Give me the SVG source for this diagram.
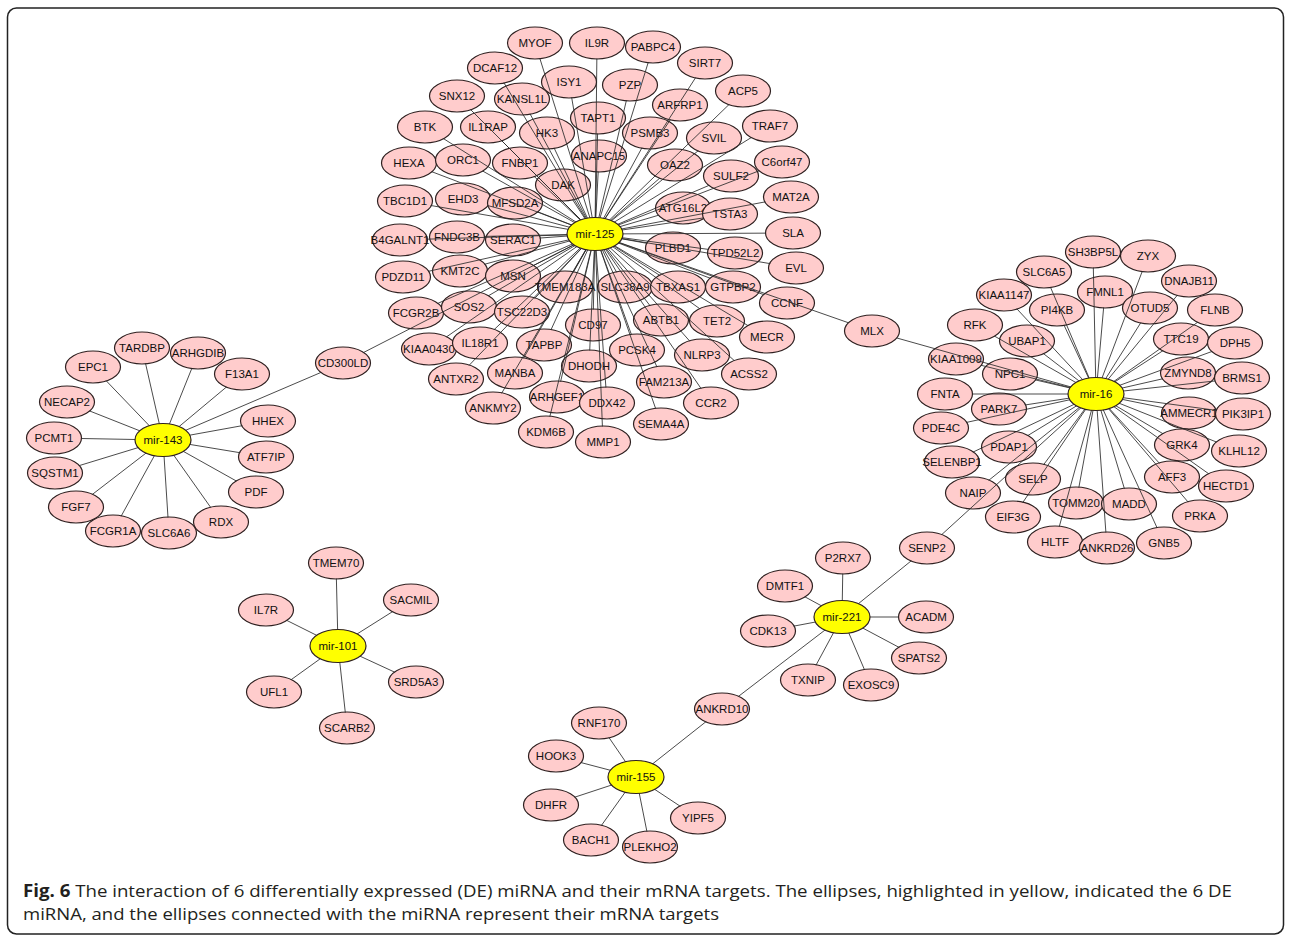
<svg xmlns="http://www.w3.org/2000/svg" xmlns:xlink="http://www.w3.org/1999/xlink" width="1290" height="936" viewBox="0 0 1290 936">
<style>
.n ellipse{rx:27.5px;ry:16px;fill:#ffcccc;stroke:#2e2020;stroke-width:1.2}
.h ellipse{rx:28px;ry:16.5px;fill:#ffff00;stroke:#2e2020;stroke-width:1.2}
.n text,.h text{font-family:"Liberation Sans",Arial,sans-serif;font-size:11.5px;fill:#111;text-anchor:middle;dominant-baseline:central}
#connectors line{stroke:#2a2a2a;stroke-width:0.85;fill:none}
#hole{clip-rule:evenodd}
.cap{font-family:"Open Sans","Liberation Sans",sans-serif;font-size:17px;fill:#231f20}
</style>
<defs>
<path id="hole" clip-rule="evenodd" d="M-2000 -2000H4000V4000H-2000ZM-27 0a27 15.5 0 1 0 54 0a27 15.5 0 1 0 -54 0Z"/>
<clipPath id="k-MYOF"><use xlink:href="#hole" x="535" y="43"/></clipPath>
<clipPath id="k-IL9R"><use xlink:href="#hole" x="597" y="43"/></clipPath>
<clipPath id="k-PABPC4"><use xlink:href="#hole" x="653" y="47"/></clipPath>
<clipPath id="k-SIRT7"><use xlink:href="#hole" x="705" y="63"/></clipPath>
<clipPath id="k-ACP5"><use xlink:href="#hole" x="743" y="91"/></clipPath>
<clipPath id="k-TRAF7"><use xlink:href="#hole" x="770" y="126"/></clipPath>
<clipPath id="k-C6orf47"><use xlink:href="#hole" x="782" y="162"/></clipPath>
<clipPath id="k-DCAF12"><use xlink:href="#hole" x="495" y="68"/></clipPath>
<clipPath id="k-ISY1"><use xlink:href="#hole" x="569" y="82"/></clipPath>
<clipPath id="k-PZP"><use xlink:href="#hole" x="630" y="85"/></clipPath>
<clipPath id="k-SNX12"><use xlink:href="#hole" x="457" y="96"/></clipPath>
<clipPath id="k-KANSL1L"><use xlink:href="#hole" x="522" y="99"/></clipPath>
<clipPath id="k-ARFRP1"><use xlink:href="#hole" x="680" y="105"/></clipPath>
<clipPath id="k-TAPT1"><use xlink:href="#hole" x="598" y="118"/></clipPath>
<clipPath id="k-BTK"><use xlink:href="#hole" x="425" y="127"/></clipPath>
<clipPath id="k-IL1RAP"><use xlink:href="#hole" x="488" y="127"/></clipPath>
<clipPath id="k-HK3"><use xlink:href="#hole" x="547" y="133"/></clipPath>
<clipPath id="k-PSMB3"><use xlink:href="#hole" x="650" y="133"/></clipPath>
<clipPath id="k-SVIL"><use xlink:href="#hole" x="714" y="138"/></clipPath>
<clipPath id="k-ANAPC15"><use xlink:href="#hole" x="599" y="156"/></clipPath>
<clipPath id="k-HEXA"><use xlink:href="#hole" x="409" y="163"/></clipPath>
<clipPath id="k-ORC1"><use xlink:href="#hole" x="463" y="160"/></clipPath>
<clipPath id="k-FNBP1"><use xlink:href="#hole" x="520" y="163"/></clipPath>
<clipPath id="k-OAZ2"><use xlink:href="#hole" x="675" y="165"/></clipPath>
<clipPath id="k-SULF2"><use xlink:href="#hole" x="731" y="176"/></clipPath>
<clipPath id="k-DAK"><use xlink:href="#hole" x="563" y="185"/></clipPath>
<clipPath id="k-TBC1D1"><use xlink:href="#hole" x="405" y="201"/></clipPath>
<clipPath id="k-EHD3"><use xlink:href="#hole" x="463" y="199"/></clipPath>
<clipPath id="k-MFSD2A"><use xlink:href="#hole" x="515" y="203"/></clipPath>
<clipPath id="k-ATG16L2"><use xlink:href="#hole" x="683" y="208"/></clipPath>
<clipPath id="k-TSTA3"><use xlink:href="#hole" x="730" y="214"/></clipPath>
<clipPath id="k-MAT2A"><use xlink:href="#hole" x="791" y="197"/></clipPath>
<clipPath id="k-SLA"><use xlink:href="#hole" x="793" y="233"/></clipPath>
<clipPath id="k-B4GALNT1"><use xlink:href="#hole" x="400" y="240"/></clipPath>
<clipPath id="k-FNDC3B"><use xlink:href="#hole" x="457" y="237"/></clipPath>
<clipPath id="k-SERAC1"><use xlink:href="#hole" x="513" y="240"/></clipPath>
<clipPath id="k-PLBD1"><use xlink:href="#hole" x="673" y="248"/></clipPath>
<clipPath id="k-TPD52L2"><use xlink:href="#hole" x="735" y="253"/></clipPath>
<clipPath id="k-EVL"><use xlink:href="#hole" x="796" y="268"/></clipPath>
<clipPath id="k-PDZD11"><use xlink:href="#hole" x="403" y="277"/></clipPath>
<clipPath id="k-KMT2C"><use xlink:href="#hole" x="460" y="271"/></clipPath>
<clipPath id="k-MSN"><use xlink:href="#hole" x="513" y="276"/></clipPath>
<clipPath id="k-TMEM183A"><use xlink:href="#hole" x="565" y="287"/></clipPath>
<clipPath id="k-SLC38A9"><use xlink:href="#hole" x="625" y="287"/></clipPath>
<clipPath id="k-TBXAS1"><use xlink:href="#hole" x="678" y="287"/></clipPath>
<clipPath id="k-GTPBP2"><use xlink:href="#hole" x="733" y="287"/></clipPath>
<clipPath id="k-CCNF"><use xlink:href="#hole" x="787" y="303"/></clipPath>
<clipPath id="k-FCGR2B"><use xlink:href="#hole" x="416" y="313"/></clipPath>
<clipPath id="k-SOS2"><use xlink:href="#hole" x="469" y="307"/></clipPath>
<clipPath id="k-TSC22D3"><use xlink:href="#hole" x="522" y="312"/></clipPath>
<clipPath id="k-CD97"><use xlink:href="#hole" x="593" y="325"/></clipPath>
<clipPath id="k-ABTB1"><use xlink:href="#hole" x="661" y="320"/></clipPath>
<clipPath id="k-TET2"><use xlink:href="#hole" x="717" y="321"/></clipPath>
<clipPath id="k-MECR"><use xlink:href="#hole" x="767" y="337"/></clipPath>
<clipPath id="k-KIAA0430"><use xlink:href="#hole" x="429" y="349"/></clipPath>
<clipPath id="k-IL18R1"><use xlink:href="#hole" x="480" y="343"/></clipPath>
<clipPath id="k-TAPBP"><use xlink:href="#hole" x="544" y="345"/></clipPath>
<clipPath id="k-DHODH"><use xlink:href="#hole" x="589" y="366"/></clipPath>
<clipPath id="k-PCSK4"><use xlink:href="#hole" x="637" y="350"/></clipPath>
<clipPath id="k-NLRP3"><use xlink:href="#hole" x="702" y="355"/></clipPath>
<clipPath id="k-ACSS2"><use xlink:href="#hole" x="749" y="374"/></clipPath>
<clipPath id="k-ANTXR2"><use xlink:href="#hole" x="456" y="379"/></clipPath>
<clipPath id="k-MANBA"><use xlink:href="#hole" x="515" y="373"/></clipPath>
<clipPath id="k-FAM213A"><use xlink:href="#hole" x="664" y="382"/></clipPath>
<clipPath id="k-ARHGEF1"><use xlink:href="#hole" x="557" y="397"/></clipPath>
<clipPath id="k-DDX42"><use xlink:href="#hole" x="607" y="403"/></clipPath>
<clipPath id="k-CCR2"><use xlink:href="#hole" x="711" y="403"/></clipPath>
<clipPath id="k-ANKMY2"><use xlink:href="#hole" x="493" y="408"/></clipPath>
<clipPath id="k-SEMA4A"><use xlink:href="#hole" x="661" y="424"/></clipPath>
<clipPath id="k-KDM6B"><use xlink:href="#hole" x="546" y="432"/></clipPath>
<clipPath id="k-MMP1"><use xlink:href="#hole" x="603" y="442"/></clipPath>
<clipPath id="k-CD300LD"><use xlink:href="#hole" x="343" y="363"/></clipPath>
<clipPath id="k-MLX"><use xlink:href="#hole" x="872" y="331"/></clipPath>
<clipPath id="k-SH3BP5L"><use xlink:href="#hole" x="1093" y="252"/></clipPath>
<clipPath id="k-ZYX"><use xlink:href="#hole" x="1148" y="256"/></clipPath>
<clipPath id="k-SLC6A5"><use xlink:href="#hole" x="1044" y="272"/></clipPath>
<clipPath id="k-DNAJB11"><use xlink:href="#hole" x="1189" y="281"/></clipPath>
<clipPath id="k-KIAA1147"><use xlink:href="#hole" x="1004" y="295"/></clipPath>
<clipPath id="k-FMNL1"><use xlink:href="#hole" x="1105" y="292"/></clipPath>
<clipPath id="k-OTUD5"><use xlink:href="#hole" x="1150" y="308"/></clipPath>
<clipPath id="k-FLNB"><use xlink:href="#hole" x="1215" y="310"/></clipPath>
<clipPath id="k-PI4KB"><use xlink:href="#hole" x="1057" y="310"/></clipPath>
<clipPath id="k-RFK"><use xlink:href="#hole" x="975" y="325"/></clipPath>
<clipPath id="k-UBAP1"><use xlink:href="#hole" x="1027" y="341"/></clipPath>
<clipPath id="k-TTC19"><use xlink:href="#hole" x="1181" y="339"/></clipPath>
<clipPath id="k-DPH5"><use xlink:href="#hole" x="1235" y="343"/></clipPath>
<clipPath id="k-KIAA1009"><use xlink:href="#hole" x="956" y="359"/></clipPath>
<clipPath id="k-NPC1"><use xlink:href="#hole" x="1010" y="374"/></clipPath>
<clipPath id="k-ZMYND8"><use xlink:href="#hole" x="1188" y="373"/></clipPath>
<clipPath id="k-BRMS1"><use xlink:href="#hole" x="1242" y="378"/></clipPath>
<clipPath id="k-FNTA"><use xlink:href="#hole" x="945" y="394"/></clipPath>
<clipPath id="k-PARK7"><use xlink:href="#hole" x="999" y="409"/></clipPath>
<clipPath id="k-AMMECR1"><use xlink:href="#hole" x="1189" y="413"/></clipPath>
<clipPath id="k-PIK3IP1"><use xlink:href="#hole" x="1243" y="414"/></clipPath>
<clipPath id="k-PDE4C"><use xlink:href="#hole" x="941" y="428"/></clipPath>
<clipPath id="k-PDAP1"><use xlink:href="#hole" x="1009" y="447"/></clipPath>
<clipPath id="k-GRK4"><use xlink:href="#hole" x="1182" y="445"/></clipPath>
<clipPath id="k-KLHL12"><use xlink:href="#hole" x="1239" y="451"/></clipPath>
<clipPath id="k-SELENBP1"><use xlink:href="#hole" x="952" y="462"/></clipPath>
<clipPath id="k-SELP"><use xlink:href="#hole" x="1033" y="479"/></clipPath>
<clipPath id="k-AFF3"><use xlink:href="#hole" x="1172" y="477"/></clipPath>
<clipPath id="k-HECTD1"><use xlink:href="#hole" x="1226" y="486"/></clipPath>
<clipPath id="k-NAIP"><use xlink:href="#hole" x="973" y="493"/></clipPath>
<clipPath id="k-TOMM20"><use xlink:href="#hole" x="1076" y="503"/></clipPath>
<clipPath id="k-MADD"><use xlink:href="#hole" x="1129" y="504"/></clipPath>
<clipPath id="k-EIF3G"><use xlink:href="#hole" x="1013" y="517"/></clipPath>
<clipPath id="k-PRKA"><use xlink:href="#hole" x="1200" y="516"/></clipPath>
<clipPath id="k-HLTF"><use xlink:href="#hole" x="1055" y="542"/></clipPath>
<clipPath id="k-ANKRD26"><use xlink:href="#hole" x="1107" y="548"/></clipPath>
<clipPath id="k-GNB5"><use xlink:href="#hole" x="1164" y="543"/></clipPath>
<clipPath id="k-SENP2"><use xlink:href="#hole" x="927" y="548"/></clipPath>
<clipPath id="k-TARDBP"><use xlink:href="#hole" x="142" y="348"/></clipPath>
<clipPath id="k-ARHGDIB"><use xlink:href="#hole" x="198" y="353"/></clipPath>
<clipPath id="k-EPC1"><use xlink:href="#hole" x="93" y="367"/></clipPath>
<clipPath id="k-F13A1"><use xlink:href="#hole" x="242" y="374"/></clipPath>
<clipPath id="k-NECAP2"><use xlink:href="#hole" x="67" y="402"/></clipPath>
<clipPath id="k-HHEX"><use xlink:href="#hole" x="268" y="421"/></clipPath>
<clipPath id="k-PCMT1"><use xlink:href="#hole" x="54" y="438"/></clipPath>
<clipPath id="k-ATF7IP"><use xlink:href="#hole" x="266" y="457"/></clipPath>
<clipPath id="k-SQSTM1"><use xlink:href="#hole" x="55" y="473"/></clipPath>
<clipPath id="k-PDF"><use xlink:href="#hole" x="256" y="492"/></clipPath>
<clipPath id="k-FGF7"><use xlink:href="#hole" x="76" y="507"/></clipPath>
<clipPath id="k-RDX"><use xlink:href="#hole" x="221" y="522"/></clipPath>
<clipPath id="k-FCGR1A"><use xlink:href="#hole" x="113" y="531"/></clipPath>
<clipPath id="k-SLC6A6"><use xlink:href="#hole" x="169" y="533"/></clipPath>
<clipPath id="k-TMEM70"><use xlink:href="#hole" x="336" y="563"/></clipPath>
<clipPath id="k-SACMIL"><use xlink:href="#hole" x="411" y="600"/></clipPath>
<clipPath id="k-IL7R"><use xlink:href="#hole" x="266" y="610"/></clipPath>
<clipPath id="k-SRD5A3"><use xlink:href="#hole" x="416" y="682"/></clipPath>
<clipPath id="k-UFL1"><use xlink:href="#hole" x="274" y="692"/></clipPath>
<clipPath id="k-SCARB2"><use xlink:href="#hole" x="347" y="728"/></clipPath>
<clipPath id="k-P2RX7"><use xlink:href="#hole" x="843" y="558"/></clipPath>
<clipPath id="k-DMTF1"><use xlink:href="#hole" x="785" y="586"/></clipPath>
<clipPath id="k-ACADM"><use xlink:href="#hole" x="926" y="617"/></clipPath>
<clipPath id="k-CDK13"><use xlink:href="#hole" x="768" y="631"/></clipPath>
<clipPath id="k-SPATS2"><use xlink:href="#hole" x="919" y="658"/></clipPath>
<clipPath id="k-TXNIP"><use xlink:href="#hole" x="808" y="680"/></clipPath>
<clipPath id="k-EXOSC9"><use xlink:href="#hole" x="871" y="685"/></clipPath>
<clipPath id="k-ANKRD10"><use xlink:href="#hole" x="722" y="709"/></clipPath>
<clipPath id="k-RNF170"><use xlink:href="#hole" x="599" y="723"/></clipPath>
<clipPath id="k-HOOK3"><use xlink:href="#hole" x="556" y="756"/></clipPath>
<clipPath id="k-DHFR"><use xlink:href="#hole" x="551" y="805"/></clipPath>
<clipPath id="k-YIPF5"><use xlink:href="#hole" x="698" y="818"/></clipPath>
<clipPath id="k-BACH1"><use xlink:href="#hole" x="591" y="840"/></clipPath>
<clipPath id="k-PLEKHO2"><use xlink:href="#hole" x="650" y="847"/></clipPath>
</defs>
<rect x="7.5" y="8" width="1276" height="926" rx="9" fill="#fff" stroke="#222" stroke-width="1.5"/>
<g id="targets">
<g id="n-MYOF" class="n"><ellipse cx="535" cy="43"/><text x="535" y="43">MYOF</text></g>
<g id="n-IL9R" class="n"><ellipse cx="597" cy="43"/><text x="597" y="43">IL9R</text></g>
<g id="n-PABPC4" class="n"><ellipse cx="653" cy="47"/><text x="653" y="47">PABPC4</text></g>
<g id="n-SIRT7" class="n"><ellipse cx="705" cy="63"/><text x="705" y="63">SIRT7</text></g>
<g id="n-ACP5" class="n"><ellipse cx="743" cy="91"/><text x="743" y="91">ACP5</text></g>
<g id="n-TRAF7" class="n"><ellipse cx="770" cy="126"/><text x="770" y="126">TRAF7</text></g>
<g id="n-C6orf47" class="n"><ellipse cx="782" cy="162"/><text x="782" y="162">C6orf47</text></g>
<g id="n-DCAF12" class="n"><ellipse cx="495" cy="68"/><text x="495" y="68">DCAF12</text></g>
<g id="n-ISY1" class="n"><ellipse cx="569" cy="82"/><text x="569" y="82">ISY1</text></g>
<g id="n-PZP" class="n"><ellipse cx="630" cy="85"/><text x="630" y="85">PZP</text></g>
<g id="n-SNX12" class="n"><ellipse cx="457" cy="96"/><text x="457" y="96">SNX12</text></g>
<g id="n-KANSL1L" class="n"><ellipse cx="522" cy="99"/><text x="522" y="99">KANSL1L</text></g>
<g id="n-ARFRP1" class="n"><ellipse cx="680" cy="105"/><text x="680" y="105">ARFRP1</text></g>
<g id="n-TAPT1" class="n"><ellipse cx="598" cy="118"/><text x="598" y="118">TAPT1</text></g>
<g id="n-BTK" class="n"><ellipse cx="425" cy="127"/><text x="425" y="127">BTK</text></g>
<g id="n-IL1RAP" class="n"><ellipse cx="488" cy="127"/><text x="488" y="127">IL1RAP</text></g>
<g id="n-HK3" class="n"><ellipse cx="547" cy="133"/><text x="547" y="133">HK3</text></g>
<g id="n-PSMB3" class="n"><ellipse cx="650" cy="133"/><text x="650" y="133">PSMB3</text></g>
<g id="n-SVIL" class="n"><ellipse cx="714" cy="138"/><text x="714" y="138">SVIL</text></g>
<g id="n-ANAPC15" class="n"><ellipse cx="599" cy="156"/><text x="599" y="156">ANAPC15</text></g>
<g id="n-HEXA" class="n"><ellipse cx="409" cy="163"/><text x="409" y="163">HEXA</text></g>
<g id="n-ORC1" class="n"><ellipse cx="463" cy="160"/><text x="463" y="160">ORC1</text></g>
<g id="n-FNBP1" class="n"><ellipse cx="520" cy="163"/><text x="520" y="163">FNBP1</text></g>
<g id="n-OAZ2" class="n"><ellipse cx="675" cy="165"/><text x="675" y="165">OAZ2</text></g>
<g id="n-SULF2" class="n"><ellipse cx="731" cy="176"/><text x="731" y="176">SULF2</text></g>
<g id="n-DAK" class="n"><ellipse cx="563" cy="185"/><text x="563" y="185">DAK</text></g>
<g id="n-TBC1D1" class="n"><ellipse cx="405" cy="201"/><text x="405" y="201">TBC1D1</text></g>
<g id="n-EHD3" class="n"><ellipse cx="463" cy="199"/><text x="463" y="199">EHD3</text></g>
<g id="n-MFSD2A" class="n"><ellipse cx="515" cy="203"/><text x="515" y="203">MFSD2A</text></g>
<g id="n-ATG16L2" class="n"><ellipse cx="683" cy="208"/><text x="683" y="208">ATG16L2</text></g>
<g id="n-TSTA3" class="n"><ellipse cx="730" cy="214"/><text x="730" y="214">TSTA3</text></g>
<g id="n-MAT2A" class="n"><ellipse cx="791" cy="197"/><text x="791" y="197">MAT2A</text></g>
<g id="n-SLA" class="n"><ellipse cx="793" cy="233"/><text x="793" y="233">SLA</text></g>
<g id="n-B4GALNT1" class="n"><ellipse cx="400" cy="240"/><text x="400" y="240">B4GALNT1</text></g>
<g id="n-FNDC3B" class="n"><ellipse cx="457" cy="237"/><text x="457" y="237">FNDC3B</text></g>
<g id="n-SERAC1" class="n"><ellipse cx="513" cy="240"/><text x="513" y="240">SERAC1</text></g>
<g id="n-PLBD1" class="n"><ellipse cx="673" cy="248"/><text x="673" y="248">PLBD1</text></g>
<g id="n-TPD52L2" class="n"><ellipse cx="735" cy="253"/><text x="735" y="253">TPD52L2</text></g>
<g id="n-EVL" class="n"><ellipse cx="796" cy="268"/><text x="796" y="268">EVL</text></g>
<g id="n-PDZD11" class="n"><ellipse cx="403" cy="277"/><text x="403" y="277">PDZD11</text></g>
<g id="n-KMT2C" class="n"><ellipse cx="460" cy="271"/><text x="460" y="271">KMT2C</text></g>
<g id="n-MSN" class="n"><ellipse cx="513" cy="276"/><text x="513" y="276">MSN</text></g>
<g id="n-TMEM183A" class="n"><ellipse cx="565" cy="287"/><text x="565" y="287">TMEM183A</text></g>
<g id="n-SLC38A9" class="n"><ellipse cx="625" cy="287"/><text x="625" y="287">SLC38A9</text></g>
<g id="n-TBXAS1" class="n"><ellipse cx="678" cy="287"/><text x="678" y="287">TBXAS1</text></g>
<g id="n-GTPBP2" class="n"><ellipse cx="733" cy="287"/><text x="733" y="287">GTPBP2</text></g>
<g id="n-CCNF" class="n"><ellipse cx="787" cy="303"/><text x="787" y="303">CCNF</text></g>
<g id="n-FCGR2B" class="n"><ellipse cx="416" cy="313"/><text x="416" y="313">FCGR2B</text></g>
<g id="n-SOS2" class="n"><ellipse cx="469" cy="307"/><text x="469" y="307">SOS2</text></g>
<g id="n-TSC22D3" class="n"><ellipse cx="522" cy="312"/><text x="522" y="312">TSC22D3</text></g>
<g id="n-CD97" class="n"><ellipse cx="593" cy="325"/><text x="593" y="325">CD97</text></g>
<g id="n-ABTB1" class="n"><ellipse cx="661" cy="320"/><text x="661" y="320">ABTB1</text></g>
<g id="n-TET2" class="n"><ellipse cx="717" cy="321"/><text x="717" y="321">TET2</text></g>
<g id="n-MECR" class="n"><ellipse cx="767" cy="337"/><text x="767" y="337">MECR</text></g>
<g id="n-KIAA0430" class="n"><ellipse cx="429" cy="349"/><text x="429" y="349">KIAA0430</text></g>
<g id="n-IL18R1" class="n"><ellipse cx="480" cy="343"/><text x="480" y="343">IL18R1</text></g>
<g id="n-TAPBP" class="n"><ellipse cx="544" cy="345"/><text x="544" y="345">TAPBP</text></g>
<g id="n-DHODH" class="n"><ellipse cx="589" cy="366"/><text x="589" y="366">DHODH</text></g>
<g id="n-PCSK4" class="n"><ellipse cx="637" cy="350"/><text x="637" y="350">PCSK4</text></g>
<g id="n-NLRP3" class="n"><ellipse cx="702" cy="355"/><text x="702" y="355">NLRP3</text></g>
<g id="n-ACSS2" class="n"><ellipse cx="749" cy="374"/><text x="749" y="374">ACSS2</text></g>
<g id="n-ANTXR2" class="n"><ellipse cx="456" cy="379"/><text x="456" y="379">ANTXR2</text></g>
<g id="n-MANBA" class="n"><ellipse cx="515" cy="373"/><text x="515" y="373">MANBA</text></g>
<g id="n-FAM213A" class="n"><ellipse cx="664" cy="382"/><text x="664" y="382">FAM213A</text></g>
<g id="n-ARHGEF1" class="n"><ellipse cx="557" cy="397"/><text x="557" y="397">ARHGEF1</text></g>
<g id="n-DDX42" class="n"><ellipse cx="607" cy="403"/><text x="607" y="403">DDX42</text></g>
<g id="n-CCR2" class="n"><ellipse cx="711" cy="403"/><text x="711" y="403">CCR2</text></g>
<g id="n-ANKMY2" class="n"><ellipse cx="493" cy="408"/><text x="493" y="408">ANKMY2</text></g>
<g id="n-SEMA4A" class="n"><ellipse cx="661" cy="424"/><text x="661" y="424">SEMA4A</text></g>
<g id="n-KDM6B" class="n"><ellipse cx="546" cy="432"/><text x="546" y="432">KDM6B</text></g>
<g id="n-MMP1" class="n"><ellipse cx="603" cy="442"/><text x="603" y="442">MMP1</text></g>
<g id="n-CD300LD" class="n"><ellipse cx="343" cy="363"/><text x="343" y="363">CD300LD</text></g>
<g id="n-MLX" class="n"><ellipse cx="872" cy="331"/><text x="872" y="331">MLX</text></g>
<g id="n-SH3BP5L" class="n"><ellipse cx="1093" cy="252"/><text x="1093" y="252">SH3BP5L</text></g>
<g id="n-ZYX" class="n"><ellipse cx="1148" cy="256"/><text x="1148" y="256">ZYX</text></g>
<g id="n-SLC6A5" class="n"><ellipse cx="1044" cy="272"/><text x="1044" y="272">SLC6A5</text></g>
<g id="n-DNAJB11" class="n"><ellipse cx="1189" cy="281"/><text x="1189" y="281">DNAJB11</text></g>
<g id="n-KIAA1147" class="n"><ellipse cx="1004" cy="295"/><text x="1004" y="295">KIAA1147</text></g>
<g id="n-FMNL1" class="n"><ellipse cx="1105" cy="292"/><text x="1105" y="292">FMNL1</text></g>
<g id="n-OTUD5" class="n"><ellipse cx="1150" cy="308"/><text x="1150" y="308">OTUD5</text></g>
<g id="n-FLNB" class="n"><ellipse cx="1215" cy="310"/><text x="1215" y="310">FLNB</text></g>
<g id="n-PI4KB" class="n"><ellipse cx="1057" cy="310"/><text x="1057" y="310">PI4KB</text></g>
<g id="n-RFK" class="n"><ellipse cx="975" cy="325"/><text x="975" y="325">RFK</text></g>
<g id="n-UBAP1" class="n"><ellipse cx="1027" cy="341"/><text x="1027" y="341">UBAP1</text></g>
<g id="n-TTC19" class="n"><ellipse cx="1181" cy="339"/><text x="1181" y="339">TTC19</text></g>
<g id="n-DPH5" class="n"><ellipse cx="1235" cy="343"/><text x="1235" y="343">DPH5</text></g>
<g id="n-KIAA1009" class="n"><ellipse cx="956" cy="359"/><text x="956" y="359">KIAA1009</text></g>
<g id="n-NPC1" class="n"><ellipse cx="1010" cy="374"/><text x="1010" y="374">NPC1</text></g>
<g id="n-ZMYND8" class="n"><ellipse cx="1188" cy="373"/><text x="1188" y="373">ZMYND8</text></g>
<g id="n-BRMS1" class="n"><ellipse cx="1242" cy="378"/><text x="1242" y="378">BRMS1</text></g>
<g id="n-FNTA" class="n"><ellipse cx="945" cy="394"/><text x="945" y="394">FNTA</text></g>
<g id="n-PARK7" class="n"><ellipse cx="999" cy="409"/><text x="999" y="409">PARK7</text></g>
<g id="n-AMMECR1" class="n"><ellipse cx="1189" cy="413"/><text x="1189" y="413">AMMECR1</text></g>
<g id="n-PIK3IP1" class="n"><ellipse cx="1243" cy="414"/><text x="1243" y="414">PIK3IP1</text></g>
<g id="n-PDE4C" class="n"><ellipse cx="941" cy="428"/><text x="941" y="428">PDE4C</text></g>
<g id="n-PDAP1" class="n"><ellipse cx="1009" cy="447"/><text x="1009" y="447">PDAP1</text></g>
<g id="n-GRK4" class="n"><ellipse cx="1182" cy="445"/><text x="1182" y="445">GRK4</text></g>
<g id="n-KLHL12" class="n"><ellipse cx="1239" cy="451"/><text x="1239" y="451">KLHL12</text></g>
<g id="n-SELENBP1" class="n"><ellipse cx="952" cy="462"/><text x="952" y="462">SELENBP1</text></g>
<g id="n-SELP" class="n"><ellipse cx="1033" cy="479"/><text x="1033" y="479">SELP</text></g>
<g id="n-AFF3" class="n"><ellipse cx="1172" cy="477"/><text x="1172" y="477">AFF3</text></g>
<g id="n-HECTD1" class="n"><ellipse cx="1226" cy="486"/><text x="1226" y="486">HECTD1</text></g>
<g id="n-NAIP" class="n"><ellipse cx="973" cy="493"/><text x="973" y="493">NAIP</text></g>
<g id="n-TOMM20" class="n"><ellipse cx="1076" cy="503"/><text x="1076" y="503">TOMM20</text></g>
<g id="n-MADD" class="n"><ellipse cx="1129" cy="504"/><text x="1129" y="504">MADD</text></g>
<g id="n-EIF3G" class="n"><ellipse cx="1013" cy="517"/><text x="1013" y="517">EIF3G</text></g>
<g id="n-PRKA" class="n"><ellipse cx="1200" cy="516"/><text x="1200" y="516">PRKA</text></g>
<g id="n-HLTF" class="n"><ellipse cx="1055" cy="542"/><text x="1055" y="542">HLTF</text></g>
<g id="n-ANKRD26" class="n"><ellipse cx="1107" cy="548"/><text x="1107" y="548">ANKRD26</text></g>
<g id="n-GNB5" class="n"><ellipse cx="1164" cy="543"/><text x="1164" y="543">GNB5</text></g>
<g id="n-SENP2" class="n"><ellipse cx="927" cy="548"/><text x="927" y="548">SENP2</text></g>
<g id="n-TARDBP" class="n"><ellipse cx="142" cy="348"/><text x="142" y="348">TARDBP</text></g>
<g id="n-ARHGDIB" class="n"><ellipse cx="198" cy="353"/><text x="198" y="353">ARHGDIB</text></g>
<g id="n-EPC1" class="n"><ellipse cx="93" cy="367"/><text x="93" y="367">EPC1</text></g>
<g id="n-F13A1" class="n"><ellipse cx="242" cy="374"/><text x="242" y="374">F13A1</text></g>
<g id="n-NECAP2" class="n"><ellipse cx="67" cy="402"/><text x="67" y="402">NECAP2</text></g>
<g id="n-HHEX" class="n"><ellipse cx="268" cy="421"/><text x="268" y="421">HHEX</text></g>
<g id="n-PCMT1" class="n"><ellipse cx="54" cy="438"/><text x="54" y="438">PCMT1</text></g>
<g id="n-ATF7IP" class="n"><ellipse cx="266" cy="457"/><text x="266" y="457">ATF7IP</text></g>
<g id="n-SQSTM1" class="n"><ellipse cx="55" cy="473"/><text x="55" y="473">SQSTM1</text></g>
<g id="n-PDF" class="n"><ellipse cx="256" cy="492"/><text x="256" y="492">PDF</text></g>
<g id="n-FGF7" class="n"><ellipse cx="76" cy="507"/><text x="76" y="507">FGF7</text></g>
<g id="n-RDX" class="n"><ellipse cx="221" cy="522"/><text x="221" y="522">RDX</text></g>
<g id="n-FCGR1A" class="n"><ellipse cx="113" cy="531"/><text x="113" y="531">FCGR1A</text></g>
<g id="n-SLC6A6" class="n"><ellipse cx="169" cy="533"/><text x="169" y="533">SLC6A6</text></g>
<g id="n-TMEM70" class="n"><ellipse cx="336" cy="563"/><text x="336" y="563">TMEM70</text></g>
<g id="n-SACMIL" class="n"><ellipse cx="411" cy="600"/><text x="411" y="600">SACMIL</text></g>
<g id="n-IL7R" class="n"><ellipse cx="266" cy="610"/><text x="266" y="610">IL7R</text></g>
<g id="n-SRD5A3" class="n"><ellipse cx="416" cy="682"/><text x="416" y="682">SRD5A3</text></g>
<g id="n-UFL1" class="n"><ellipse cx="274" cy="692"/><text x="274" y="692">UFL1</text></g>
<g id="n-SCARB2" class="n"><ellipse cx="347" cy="728"/><text x="347" y="728">SCARB2</text></g>
<g id="n-P2RX7" class="n"><ellipse cx="843" cy="558"/><text x="843" y="558">P2RX7</text></g>
<g id="n-DMTF1" class="n"><ellipse cx="785" cy="586"/><text x="785" y="586">DMTF1</text></g>
<g id="n-ACADM" class="n"><ellipse cx="926" cy="617"/><text x="926" y="617">ACADM</text></g>
<g id="n-CDK13" class="n"><ellipse cx="768" cy="631"/><text x="768" y="631">CDK13</text></g>
<g id="n-SPATS2" class="n"><ellipse cx="919" cy="658"/><text x="919" y="658">SPATS2</text></g>
<g id="n-TXNIP" class="n"><ellipse cx="808" cy="680"/><text x="808" y="680">TXNIP</text></g>
<g id="n-EXOSC9" class="n"><ellipse cx="871" cy="685"/><text x="871" y="685">EXOSC9</text></g>
<g id="n-ANKRD10" class="n"><ellipse cx="722" cy="709"/><text x="722" y="709">ANKRD10</text></g>
<g id="n-RNF170" class="n"><ellipse cx="599" cy="723"/><text x="599" y="723">RNF170</text></g>
<g id="n-HOOK3" class="n"><ellipse cx="556" cy="756"/><text x="556" y="756">HOOK3</text></g>
<g id="n-DHFR" class="n"><ellipse cx="551" cy="805"/><text x="551" y="805">DHFR</text></g>
<g id="n-YIPF5" class="n"><ellipse cx="698" cy="818"/><text x="698" y="818">YIPF5</text></g>
<g id="n-BACH1" class="n"><ellipse cx="591" cy="840"/><text x="591" y="840">BACH1</text></g>
<g id="n-PLEKHO2" class="n"><ellipse cx="650" cy="847"/><text x="650" y="847">PLEKHO2</text></g>
</g>
<g id="connectors">
<line x1="595" y1="234" x2="535" y2="43" clip-path="url(#k-MYOF)"/>
<line x1="595" y1="234" x2="597" y2="43" clip-path="url(#k-IL9R)"/>
<line x1="595" y1="234" x2="653" y2="47" clip-path="url(#k-PABPC4)"/>
<line x1="595" y1="234" x2="705" y2="63" clip-path="url(#k-SIRT7)"/>
<line x1="595" y1="234" x2="743" y2="91" clip-path="url(#k-ACP5)"/>
<line x1="595" y1="234" x2="770" y2="126" clip-path="url(#k-TRAF7)"/>
<line x1="595" y1="234" x2="782" y2="162" clip-path="url(#k-C6orf47)"/>
<line x1="595" y1="234" x2="495" y2="68" clip-path="url(#k-DCAF12)"/>
<line x1="595" y1="234" x2="569" y2="82" clip-path="url(#k-ISY1)"/>
<line x1="595" y1="234" x2="630" y2="85" clip-path="url(#k-PZP)"/>
<line x1="595" y1="234" x2="457" y2="96" clip-path="url(#k-SNX12)"/>
<line x1="595" y1="234" x2="522" y2="99" clip-path="url(#k-KANSL1L)"/>
<line x1="595" y1="234" x2="680" y2="105" clip-path="url(#k-ARFRP1)"/>
<line x1="595" y1="234" x2="598" y2="118" clip-path="url(#k-TAPT1)"/>
<line x1="595" y1="234" x2="425" y2="127" clip-path="url(#k-BTK)"/>
<line x1="595" y1="234" x2="488" y2="127" clip-path="url(#k-IL1RAP)"/>
<line x1="595" y1="234" x2="547" y2="133" clip-path="url(#k-HK3)"/>
<line x1="595" y1="234" x2="650" y2="133" clip-path="url(#k-PSMB3)"/>
<line x1="595" y1="234" x2="714" y2="138" clip-path="url(#k-SVIL)"/>
<line x1="595" y1="234" x2="599" y2="156" clip-path="url(#k-ANAPC15)"/>
<line x1="595" y1="234" x2="409" y2="163" clip-path="url(#k-HEXA)"/>
<line x1="595" y1="234" x2="463" y2="160" clip-path="url(#k-ORC1)"/>
<line x1="595" y1="234" x2="520" y2="163" clip-path="url(#k-FNBP1)"/>
<line x1="595" y1="234" x2="675" y2="165" clip-path="url(#k-OAZ2)"/>
<line x1="595" y1="234" x2="731" y2="176" clip-path="url(#k-SULF2)"/>
<line x1="595" y1="234" x2="563" y2="185" clip-path="url(#k-DAK)"/>
<line x1="595" y1="234" x2="405" y2="201" clip-path="url(#k-TBC1D1)"/>
<line x1="595" y1="234" x2="463" y2="199" clip-path="url(#k-EHD3)"/>
<line x1="595" y1="234" x2="515" y2="203" clip-path="url(#k-MFSD2A)"/>
<line x1="595" y1="234" x2="683" y2="208" clip-path="url(#k-ATG16L2)"/>
<line x1="595" y1="234" x2="730" y2="214" clip-path="url(#k-TSTA3)"/>
<line x1="595" y1="234" x2="791" y2="197" clip-path="url(#k-MAT2A)"/>
<line x1="595" y1="234" x2="793" y2="233" clip-path="url(#k-SLA)"/>
<line x1="595" y1="234" x2="400" y2="240" clip-path="url(#k-B4GALNT1)"/>
<line x1="595" y1="234" x2="457" y2="237" clip-path="url(#k-FNDC3B)"/>
<line x1="595" y1="234" x2="513" y2="240" clip-path="url(#k-SERAC1)"/>
<line x1="595" y1="234" x2="673" y2="248" clip-path="url(#k-PLBD1)"/>
<line x1="595" y1="234" x2="735" y2="253" clip-path="url(#k-TPD52L2)"/>
<line x1="595" y1="234" x2="796" y2="268" clip-path="url(#k-EVL)"/>
<line x1="595" y1="234" x2="403" y2="277" clip-path="url(#k-PDZD11)"/>
<line x1="595" y1="234" x2="460" y2="271" clip-path="url(#k-KMT2C)"/>
<line x1="595" y1="234" x2="513" y2="276" clip-path="url(#k-MSN)"/>
<line x1="595" y1="234" x2="565" y2="287" clip-path="url(#k-TMEM183A)"/>
<line x1="595" y1="234" x2="625" y2="287" clip-path="url(#k-SLC38A9)"/>
<line x1="595" y1="234" x2="678" y2="287" clip-path="url(#k-TBXAS1)"/>
<line x1="595" y1="234" x2="733" y2="287" clip-path="url(#k-GTPBP2)"/>
<line x1="595" y1="234" x2="787" y2="303" clip-path="url(#k-CCNF)"/>
<line x1="595" y1="234" x2="416" y2="313" clip-path="url(#k-FCGR2B)"/>
<line x1="595" y1="234" x2="469" y2="307" clip-path="url(#k-SOS2)"/>
<line x1="595" y1="234" x2="522" y2="312" clip-path="url(#k-TSC22D3)"/>
<line x1="595" y1="234" x2="593" y2="325" clip-path="url(#k-CD97)"/>
<line x1="595" y1="234" x2="661" y2="320" clip-path="url(#k-ABTB1)"/>
<line x1="595" y1="234" x2="717" y2="321" clip-path="url(#k-TET2)"/>
<line x1="595" y1="234" x2="767" y2="337" clip-path="url(#k-MECR)"/>
<line x1="595" y1="234" x2="429" y2="349" clip-path="url(#k-KIAA0430)"/>
<line x1="595" y1="234" x2="480" y2="343" clip-path="url(#k-IL18R1)"/>
<line x1="595" y1="234" x2="544" y2="345" clip-path="url(#k-TAPBP)"/>
<line x1="595" y1="234" x2="589" y2="366" clip-path="url(#k-DHODH)"/>
<line x1="595" y1="234" x2="637" y2="350" clip-path="url(#k-PCSK4)"/>
<line x1="595" y1="234" x2="702" y2="355" clip-path="url(#k-NLRP3)"/>
<line x1="595" y1="234" x2="749" y2="374" clip-path="url(#k-ACSS2)"/>
<line x1="595" y1="234" x2="456" y2="379" clip-path="url(#k-ANTXR2)"/>
<line x1="595" y1="234" x2="515" y2="373" clip-path="url(#k-MANBA)"/>
<line x1="595" y1="234" x2="664" y2="382" clip-path="url(#k-FAM213A)"/>
<line x1="595" y1="234" x2="557" y2="397" clip-path="url(#k-ARHGEF1)"/>
<line x1="595" y1="234" x2="607" y2="403" clip-path="url(#k-DDX42)"/>
<line x1="595" y1="234" x2="711" y2="403" clip-path="url(#k-CCR2)"/>
<line x1="595" y1="234" x2="493" y2="408" clip-path="url(#k-ANKMY2)"/>
<line x1="595" y1="234" x2="661" y2="424" clip-path="url(#k-SEMA4A)"/>
<line x1="595" y1="234" x2="546" y2="432" clip-path="url(#k-KDM6B)"/>
<line x1="595" y1="234" x2="603" y2="442" clip-path="url(#k-MMP1)"/>
<line x1="595" y1="234" x2="343" y2="363" clip-path="url(#k-CD300LD)"/>
<line x1="595" y1="234" x2="872" y2="331" clip-path="url(#k-MLX)"/>
<line x1="1096" y1="394" x2="872" y2="331" clip-path="url(#k-MLX)"/>
<line x1="1096" y1="394" x2="1093" y2="252" clip-path="url(#k-SH3BP5L)"/>
<line x1="1096" y1="394" x2="1148" y2="256" clip-path="url(#k-ZYX)"/>
<line x1="1096" y1="394" x2="1044" y2="272" clip-path="url(#k-SLC6A5)"/>
<line x1="1096" y1="394" x2="1189" y2="281" clip-path="url(#k-DNAJB11)"/>
<line x1="1096" y1="394" x2="1004" y2="295" clip-path="url(#k-KIAA1147)"/>
<line x1="1096" y1="394" x2="1105" y2="292" clip-path="url(#k-FMNL1)"/>
<line x1="1096" y1="394" x2="1150" y2="308" clip-path="url(#k-OTUD5)"/>
<line x1="1096" y1="394" x2="1215" y2="310" clip-path="url(#k-FLNB)"/>
<line x1="1096" y1="394" x2="1057" y2="310" clip-path="url(#k-PI4KB)"/>
<line x1="1096" y1="394" x2="975" y2="325" clip-path="url(#k-RFK)"/>
<line x1="1096" y1="394" x2="1027" y2="341" clip-path="url(#k-UBAP1)"/>
<line x1="1096" y1="394" x2="1181" y2="339" clip-path="url(#k-TTC19)"/>
<line x1="1096" y1="394" x2="1235" y2="343" clip-path="url(#k-DPH5)"/>
<line x1="1096" y1="394" x2="956" y2="359" clip-path="url(#k-KIAA1009)"/>
<line x1="1096" y1="394" x2="1010" y2="374" clip-path="url(#k-NPC1)"/>
<line x1="1096" y1="394" x2="1188" y2="373" clip-path="url(#k-ZMYND8)"/>
<line x1="1096" y1="394" x2="1242" y2="378" clip-path="url(#k-BRMS1)"/>
<line x1="1096" y1="394" x2="945" y2="394" clip-path="url(#k-FNTA)"/>
<line x1="1096" y1="394" x2="999" y2="409" clip-path="url(#k-PARK7)"/>
<line x1="1096" y1="394" x2="1189" y2="413" clip-path="url(#k-AMMECR1)"/>
<line x1="1096" y1="394" x2="1243" y2="414" clip-path="url(#k-PIK3IP1)"/>
<line x1="1096" y1="394" x2="941" y2="428" clip-path="url(#k-PDE4C)"/>
<line x1="1096" y1="394" x2="1009" y2="447" clip-path="url(#k-PDAP1)"/>
<line x1="1096" y1="394" x2="1182" y2="445" clip-path="url(#k-GRK4)"/>
<line x1="1096" y1="394" x2="1239" y2="451" clip-path="url(#k-KLHL12)"/>
<line x1="1096" y1="394" x2="952" y2="462" clip-path="url(#k-SELENBP1)"/>
<line x1="1096" y1="394" x2="1033" y2="479" clip-path="url(#k-SELP)"/>
<line x1="1096" y1="394" x2="1172" y2="477" clip-path="url(#k-AFF3)"/>
<line x1="1096" y1="394" x2="1226" y2="486" clip-path="url(#k-HECTD1)"/>
<line x1="1096" y1="394" x2="973" y2="493" clip-path="url(#k-NAIP)"/>
<line x1="1096" y1="394" x2="1076" y2="503" clip-path="url(#k-TOMM20)"/>
<line x1="1096" y1="394" x2="1129" y2="504" clip-path="url(#k-MADD)"/>
<line x1="1096" y1="394" x2="1013" y2="517" clip-path="url(#k-EIF3G)"/>
<line x1="1096" y1="394" x2="1200" y2="516" clip-path="url(#k-PRKA)"/>
<line x1="1096" y1="394" x2="1055" y2="542" clip-path="url(#k-HLTF)"/>
<line x1="1096" y1="394" x2="1107" y2="548" clip-path="url(#k-ANKRD26)"/>
<line x1="1096" y1="394" x2="1164" y2="543" clip-path="url(#k-GNB5)"/>
<line x1="1096" y1="394" x2="927" y2="548" clip-path="url(#k-SENP2)"/>
<line x1="163" y1="440" x2="142" y2="348" clip-path="url(#k-TARDBP)"/>
<line x1="163" y1="440" x2="198" y2="353" clip-path="url(#k-ARHGDIB)"/>
<line x1="163" y1="440" x2="93" y2="367" clip-path="url(#k-EPC1)"/>
<line x1="163" y1="440" x2="242" y2="374" clip-path="url(#k-F13A1)"/>
<line x1="163" y1="440" x2="67" y2="402" clip-path="url(#k-NECAP2)"/>
<line x1="163" y1="440" x2="268" y2="421" clip-path="url(#k-HHEX)"/>
<line x1="163" y1="440" x2="54" y2="438" clip-path="url(#k-PCMT1)"/>
<line x1="163" y1="440" x2="266" y2="457" clip-path="url(#k-ATF7IP)"/>
<line x1="163" y1="440" x2="55" y2="473" clip-path="url(#k-SQSTM1)"/>
<line x1="163" y1="440" x2="256" y2="492" clip-path="url(#k-PDF)"/>
<line x1="163" y1="440" x2="76" y2="507" clip-path="url(#k-FGF7)"/>
<line x1="163" y1="440" x2="221" y2="522" clip-path="url(#k-RDX)"/>
<line x1="163" y1="440" x2="113" y2="531" clip-path="url(#k-FCGR1A)"/>
<line x1="163" y1="440" x2="169" y2="533" clip-path="url(#k-SLC6A6)"/>
<line x1="163" y1="440" x2="343" y2="363" clip-path="url(#k-CD300LD)"/>
<line x1="338" y1="646" x2="336" y2="563" clip-path="url(#k-TMEM70)"/>
<line x1="338" y1="646" x2="411" y2="600" clip-path="url(#k-SACMIL)"/>
<line x1="338" y1="646" x2="266" y2="610" clip-path="url(#k-IL7R)"/>
<line x1="338" y1="646" x2="416" y2="682" clip-path="url(#k-SRD5A3)"/>
<line x1="338" y1="646" x2="274" y2="692" clip-path="url(#k-UFL1)"/>
<line x1="338" y1="646" x2="347" y2="728" clip-path="url(#k-SCARB2)"/>
<line x1="842" y1="617" x2="927" y2="548" clip-path="url(#k-SENP2)"/>
<line x1="842" y1="617" x2="843" y2="558" clip-path="url(#k-P2RX7)"/>
<line x1="842" y1="617" x2="785" y2="586" clip-path="url(#k-DMTF1)"/>
<line x1="842" y1="617" x2="926" y2="617" clip-path="url(#k-ACADM)"/>
<line x1="842" y1="617" x2="768" y2="631" clip-path="url(#k-CDK13)"/>
<line x1="842" y1="617" x2="919" y2="658" clip-path="url(#k-SPATS2)"/>
<line x1="842" y1="617" x2="808" y2="680" clip-path="url(#k-TXNIP)"/>
<line x1="842" y1="617" x2="871" y2="685" clip-path="url(#k-EXOSC9)"/>
<line x1="842" y1="617" x2="722" y2="709" clip-path="url(#k-ANKRD10)"/>
<line x1="636" y1="777" x2="722" y2="709" clip-path="url(#k-ANKRD10)"/>
<line x1="636" y1="777" x2="599" y2="723" clip-path="url(#k-RNF170)"/>
<line x1="636" y1="777" x2="556" y2="756" clip-path="url(#k-HOOK3)"/>
<line x1="636" y1="777" x2="551" y2="805" clip-path="url(#k-DHFR)"/>
<line x1="636" y1="777" x2="698" y2="818" clip-path="url(#k-YIPF5)"/>
<line x1="636" y1="777" x2="591" y2="840" clip-path="url(#k-BACH1)"/>
<line x1="636" y1="777" x2="650" y2="847" clip-path="url(#k-PLEKHO2)"/>
</g>
<g id="mir-125" class="h"><ellipse cx="595" cy="234"/><text x="595" y="234">mir-125</text></g>
<g id="mir-16" class="h"><ellipse cx="1096" cy="394"/><text x="1096" y="394">mir-16</text></g>
<g id="mir-143" class="h"><ellipse cx="163" cy="440"/><text x="163" y="440">mir-143</text></g>
<g id="mir-101" class="h"><ellipse cx="338" cy="646"/><text x="338" y="646">mir-101</text></g>
<g id="mir-221" class="h"><ellipse cx="842" cy="617"/><text x="842" y="617">mir-221</text></g>
<g id="mir-155" class="h"><ellipse cx="636" cy="777"/><text x="636" y="777">mir-155</text></g>
<g id="caption" class="cap">
<text x="23" y="897" textLength="1209" lengthAdjust="spacingAndGlyphs"><tspan font-weight="bold">Fig. 6</tspan> The interaction of 6 differentially expressed (DE) miRNA and their mRNA targets. The ellipses, highlighted in yellow, indicated the 6 DE</text>
<text x="23" y="920" textLength="696" lengthAdjust="spacingAndGlyphs">miRNA, and the ellipses connected with the miRNA represent their mRNA targets</text>
</g>
</svg>
